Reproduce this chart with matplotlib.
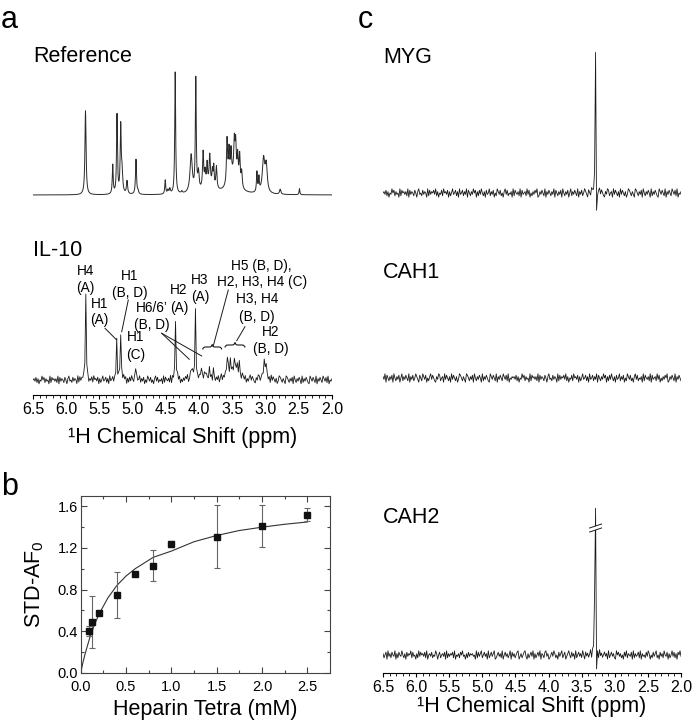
import numpy as np
import matplotlib
matplotlib.use("Agg")
import matplotlib.pyplot as plt
from matplotlib.path import Path
from matplotlib.patches import PathPatch, Polygon
from matplotlib.ticker import MultipleLocator

plt.rcParams["font.family"] = ["Liberation Sans", "DejaVu Sans"]
plt.rcParams["mathtext.fontset"] = "custom"
plt.rcParams["mathtext.rm"] = "Liberation Sans"
plt.rcParams["mathtext.it"] = "Liberation Sans:italic"
plt.rcParams["mathtext.bf"] = "Liberation Sans:bold"

# --------------------------------------------------------------------------
# Data
# --------------------------------------------------------------------------
# peak tables: (centre ppm, height a.u., half width ppm)
REF_PEAKS = [
    (5.71, 84, 0.010), (5.30, 29, 0.008), (5.236, 80, 0.008),
    (5.18, 66, 0.009), (5.16, 20, 0.012), (5.085, 13, 0.010),
    (4.95, 35, 0.009), (4.92, 3, 0.01), (4.51, 14, 0.008),
    (4.47, 4, 0.01), (4.44, 5, 0.01), (4.36, 122, 0.008),
    (4.26, 2, 0.01), (4.12, 38, 0.02), (4.05, 112, 0.008),
    (4.01, 18, 0.012), (3.94, 36, 0.010), (3.91, 14, 0.010),
    (3.88, 20, 0.008), (3.84, 28, 0.010), (3.80, 14, 0.008),
    (3.78, 20, 0.008), (3.74, 22, 0.010), (3.58, 45, 0.010),
    (3.55, 30, 0.010), (3.52, 26, 0.010), (3.47, 34, 0.010),
    (3.45, 34, 0.010), (3.42, 26, 0.010), (3.39, 30, 0.010),
    (3.36, 16, 0.010), (3.13, 20, 0.008), (3.10, 14, 0.008),
    (3.03, 34, 0.022), (2.99, 26, 0.018), (2.78, 5, 0.012),
    (2.49, 6, 0.007), (3.49, 18, 0.08), (3.85, 10, 0.08),
]

IL10_PEAKS = [
    (5.71, 82, 0.008), (5.24, 37, 0.008), (5.18, 47, 0.008),
    (4.95, 15, 0.008), (4.35, 57, 0.008), (4.05, 66, 0.008),
    (4.12, 10, 0.02), (3.96, 13, 0.01), (3.90, 9, 0.01),
    (3.85, 11, 0.01), (3.78, 7, 0.01), (3.58, 20, 0.01),
    (3.53, 13, 0.01), (3.47, 14, 0.01), (3.43, 12, 0.01),
    (3.39, 12, 0.01), (3.50, 7, 0.1), (3.02, 15, 0.02),
    (2.99, 9, 0.015),
]

MYG_PEAKS = [(3.29, 150, 0.006), (3.275, -38, 0.006)]
CAH1_PEAKS = []
CAH2_PEAKS = [(3.29, 149, 0.006), (3.305, 40, 0.006), (3.275, -36, 0.006)]

# baseline noise, one digit per point (value = digit - 4)
NOISE_DIGITS = (
    "453625143746253417264535271635"
    "426415734263541726354637251436"
    "274536152473462517346253716425"
    "374615263742516347253614275362"
    "415736243517264352716345273614"
    "253647125364271536425371642536"
    "174253614725364271536247531642"
    "753614257364215376245173642517"
    "364251376425317642536174253641"
    "725364217536427153642753627143"
    "5"
)
NOISE = np.array([int(c) for c in NOISE_DIGITS], dtype=float) - 4.0

# panel b: STD amplification factor vs heparin tetrasaccharide
CONC_MM = [0.09, 0.12, 0.2, 0.4, 0.6, 0.8, 1.0, 1.5, 2.0, 2.5]
STD_AF0 = [0.40, 0.49, 0.57, 0.75, 0.945, 1.03, 1.24, 1.31, 1.41, 1.52]
STD_ERR = [0.05, 0.25, 0.015, 0.22, 0.015, 0.15, 0.03, 0.30, 0.20, 0.06]
FIT_X = [0.0, 0.025, 0.05, 0.1, 0.15, 0.2, 0.3, 0.4, 0.5, 0.6, 0.8,
         1.0, 1.25, 1.5, 1.75, 2.0, 2.25, 2.5]
FIT_Y = [0.0, 0.10, 0.186, 0.336, 0.458, 0.56, 0.72, 0.84, 0.93, 1.0,
         1.11, 1.17, 1.26, 1.32, 1.368, 1.40, 1.428, 1.45]

# annotations of panel a: (label line, ppm, height)
IL10_LABELS = [
    ("H4", 5.707, 124), ("(A)", 5.707, 107.3),
    ("H1", 5.502, 91), ("(A)", 5.502, 75),
    ("H1", 5.04, 119), ("(B, D)", 5.04, 102.3),
    ("H1", 4.954, 58.3), ("(C)", 4.954, 40),
    ("H6/6\u2019", 4.714, 87), ("(B, D)", 4.714, 70),
    ("H2", 4.303, 105), ("(A)", 4.303, 86.7),
    ("H3", 3.987, 115), ("(A)", 3.987, 97.7),
    ("H5 (B, D),", 3.058, 129), ("H2, H3, H4 (C)", 3.058, 113.3),
    ("H3, H4", 3.133, 95.7), ("(B, D)", 3.133, 78.3),
    ("H2", 2.923, 62.7), ("(B, D)", 2.923, 46),
]
IL10_LEADERS = [
    ((5.416, 66.7), (5.240, 55)),
    ((5.066, 95), (5.165, 63.3)),
    ((4.563, 61.7), (4.148, 35.7)),
    ((4.563, 61.7), (3.961, 39)),
    ((3.561, 105), (3.786, 49.3)),
    ((3.31, 68.3), (3.434, 54.3)),
]
IL10_BRACES = [(3.946, 3.66, 48), (3.61, 3.31, 50)]

W, H = 693, 728
LINE = "#1a1a1a"


def spectrum(x, peaks, snap=False):
    y = np.zeros_like(x)
    for c, h, w in peaks:
        if snap:
            c = x[np.argmin(np.abs(x - c))]
        y += h / (1.0 + ((x - c) / w) ** 2)
    return y


def brace(ax, x0, x1, y, h):
    xm = 0.5 * (x0 + x1)
    d = (x1 - x0) * 0.15
    verts = [(x0, y - h / 2), (x0, y), (x0 + d, y), (xm - d, y),
             (xm, y), (xm, y + h / 2), (xm, y), (xm + d, y),
             (x1 - d, y), (x1, y), (x1, y - h / 2)]
    codes = [Path.MOVETO, Path.CURVE3, Path.CURVE3, Path.LINETO,
             Path.CURVE3, Path.CURVE3, Path.CURVE3, Path.CURVE3,
             Path.LINETO, Path.CURVE3, Path.CURVE3]
    ax.add_patch(PathPatch(Path(verts, codes), fill=False, lw=0.8,
                           edgecolor=LINE))


def ppm_axis(ax, labelpad):
    ax.set_xlim(6.5, 2.0)
    for s in ("top", "left", "right"):
        ax.spines[s].set_visible(False)
    ax.spines["bottom"].set_linewidth(0.8)
    ax.set_yticks([])
    ax.xaxis.set_major_locator(MultipleLocator(0.5))
    ax.xaxis.set_minor_locator(MultipleLocator(0.1))
    ax.tick_params(axis="x", which="major", direction="out", length=3,
                   width=0.8, pad=2, labelsize=11.5)
    ax.tick_params(axis="x", which="minor", direction="out", length=2,
                   width=0.6)
    ax.xaxis.set_major_formatter(plt.FormatStrFormatter("%.1f"))
    ax.set_xlabel("\u00b9H Chemical Shift (ppm)", fontsize=15.5,
                  labelpad=labelpad)
    ax.patch.set_visible(False)


fig = plt.figure(figsize=(W / 100, H / 100), dpi=100)

grid_fine = np.linspace(6.5, 2.0, 1801)
grid = np.linspace(6.5, 2.0, len(NOISE))

# ---------------- panel a ----------------
ax_a = fig.add_axes([33 / W, 1 - 395 / H, 299 / W, 355 / H])
ppm_axis(ax_a, labelpad=7)
ax_a.set_ylim(0, 355)
ax_a.plot(grid_fine, 200 + spectrum(grid_fine, REF_PEAKS), color="#2a2a2a",
          lw=0.7)
ax_a.plot(grid, 15 + 1.3 * NOISE + spectrum(grid, IL10_PEAKS, snap=True),
          color=LINE, lw=0.6)
ax_a.text(6.5, 333.3, "Reference", fontsize=15.5, ha="left", va="baseline")
ax_a.text(6.5, 139, "IL-10", fontsize=15.5, ha="left", va="baseline")
for txt, xp, yv in IL10_LABELS:
    ax_a.text(xp, yv, txt, fontsize=9.8, ha="center", va="center")
for (xa, ya), (xb, yb) in IL10_LEADERS:
    ax_a.plot([xa, xb], [ya, yb], color=LINE, lw=0.7)
for x0, x1, yb in IL10_BRACES:
    brace(ax_a, x0, x1, yb, 5)

# ---------------- panel b ----------------
ax_b = fig.add_axes([80.7 / W, 1 - 672.7 / H, 249.3 / W, 176.7 / H])
ax_b.plot(FIT_X, FIT_Y, color="#333333", lw=0.8)
ax_b.errorbar(CONC_MM, STD_AF0, yerr=STD_ERR, fmt="s", ms=4.2,
              color="#111111", ecolor="#666666", elinewidth=0.8,
              capsize=2, capthick=0.8)
ax_b.set_xlim(0, 2.75)
ax_b.set_ylim(0, 1.7)
ax_b.xaxis.set_major_locator(MultipleLocator(0.5))
ax_b.xaxis.set_minor_locator(MultipleLocator(0.25))
ax_b.yaxis.set_major_locator(MultipleLocator(0.4))
ax_b.yaxis.set_minor_locator(MultipleLocator(0.2))
ax_b.xaxis.set_major_formatter(plt.FormatStrFormatter("%.1f"))
ax_b.yaxis.set_major_formatter(plt.FormatStrFormatter("%.1f"))
ax_b.tick_params(which="both", direction="in", top=True, right=True,
                 width=0.8, labelsize=10.5, pad=2, color="#444444")
ax_b.tick_params(axis="x", which="major", pad=5)
ax_b.tick_params(which="major", length=4)
ax_b.tick_params(which="minor", length=2.5)
for s in ax_b.spines.values():
    s.set_linewidth(0.8)
    s.set_edgecolor("#444444")
ax_b.set_xlabel("Heparin Tetra (mM)", fontsize=15.5, labelpad=4)
ax_b.set_ylabel("STD-AF$_0$", fontsize=15.5, labelpad=8)

# ---------------- panel c ----------------
ax_c = fig.add_axes([383 / W, 1 - 673 / H, 298 / W, 643 / H])
ppm_axis(ax_c, labelpad=0.8)
ax_c.set_ylim(0, 643)
ax_c.plot(grid, 480 + 1.4 * NOISE + spectrum(grid, MYG_PEAKS, snap=True),
          color=LINE, lw=0.6)
ax_c.plot(grid, 295 + 1.4 * np.roll(NOISE, 131)
          + spectrum(grid, CAH1_PEAKS, snap=True), color=LINE, lw=0.6)
ax_c.plot(grid, 18 + 1.4 * np.roll(NOISE, 211)[::-1]
          + spectrum(grid, CAH2_PEAKS, snap=True), color=LINE, lw=0.6)
ax_c.text(6.5, 609.7, "MYG", fontsize=15.5, ha="left", va="baseline")
ax_c.text(6.5, 395, "CAH1", fontsize=15.5, ha="left", va="baseline")
ax_c.text(6.5, 150, "CAH2", fontsize=15.5, ha="left", va="baseline")

# axis break on the CAH2 signal
bx, by, gap = 3.29, 143, 4
ax_c.add_patch(Polygon([(bx + 0.09, by - 2), (bx - 0.09, by + 2),
                        (bx - 0.09, by + 2 + gap), (bx + 0.09, by - 2 + gap)],
                       closed=True, facecolor="white", edgecolor="none",
                       zorder=3))
for off in (0, gap):
    ax_c.plot([bx + 0.09, bx - 0.09], [by - 2 + off, by + 2 + off],
              color=LINE, lw=0.7, zorder=4)

# panel letters
fig.text(1 / W, 1 - 28 / H, "a", fontsize=22, ha="left", va="baseline")
fig.text(1 / W, 1 - 495 / H, "b", fontsize=22, ha="left", va="baseline")
fig.text(358 / W, 1 - 28 / H, "c", fontsize=22, ha="left", va="baseline")

fig.savefig("out.png", dpi=100)
